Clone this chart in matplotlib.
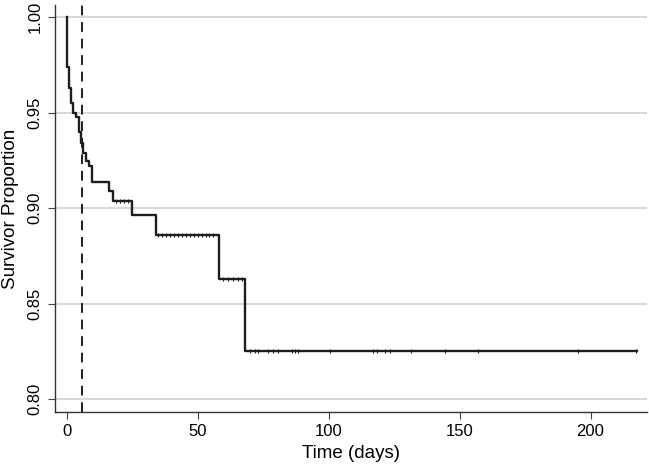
import matplotlib as mpl
mpl.use('Agg')
from matplotlib import pyplot as plt

plt.rcParams['font.family'] = ['Liberation Sans', 'DejaVu Sans']

# Kaplan-Meier steps
event_days = [0.0, 0.3, 0.9, 1.8, 2.5, 3.5, 4.8, 5.6, 6.1, 7.2, 8.6, 9.8, 16.1, 17.8, 24.8, 34.1, 58.2, 68.0, 217.7]
surv = [1.0, 0.974, 0.963, 0.955, 0.950, 0.948, 0.940, 0.934, 0.929, 0.925, 0.922, 0.914, 0.909, 0.904, 0.8965, 0.886, 0.863, 0.8254, 0.8254]

# censored observations (tick marks)
cens_days = [19, 20.5, 22, 23.5,
             35, 36.5, 38, 39.5, 41, 42.5, 44, 45.5, 47, 48.5, 50, 51.5, 53, 54.5, 56,
             59.5, 61.5, 63.5, 65.5, 67,
             70, 71.9, 73.1, 76.9, 78.8, 80.7, 85.9, 87.1, 88.4, 100.5, 117, 118.3,
             121.5, 123.4, 131.3, 144.4, 157.1, 195.3, 217.3]

median_day = 6  # dashed reference line

yticks = [0.80, 0.85, 0.90, 0.95, 1.00]
xticks = [0, 50, 100, 150, 200]


def surv_at(t):
    s = surv[0]
    for d, v in zip(event_days, surv):
        if d <= t:
            s = v
    return s


fig = plt.figure(figsize=(6.49, 4.66), dpi=100, facecolor='w')
ax = fig.add_axes([0.0847, 0.116, 0.912, 0.873])

for y in yticks:
    ax.axhline(y, color='#d4d4d4', lw=1.3, zorder=0)

ax.step(event_days, surv, where='post', color='#1e1e1e', lw=1.7, zorder=3)
ax.plot(cens_days, [surv_at(t) for t in cens_days], ls='none', marker='|',
        ms=3, mew=0.8, color='#1e1e1e', zorder=4)
ax.axvline(median_day, color='#1e1e1e', lw=1.4, ls=(0, (5, 3.5)), zorder=2)

ax.set_xlim(-4.47, 221.5)
ax.set_ylim(0.7933, 1.0064)
ax.set_xticks(xticks)
ax.set_yticks(yticks)
ax.set_yticklabels(['%.2f' % v for v in yticks], rotation=90, va='center')
ax.tick_params(axis='both', labelsize=12, length=5, width=0.8, color='#444444', pad=4)

[ax.spines[loc].set_visible(False) for loc in ['top', 'right']]
for loc in ['left', 'bottom']:
    ax.spines[loc].set_color('#333333')
    ax.spines[loc].set_linewidth(1.0)

ax.set_xlabel('Time (days)', fontsize=13.5, labelpad=4)
ax.set_ylabel('Survivor Proportion', fontsize=13.5, labelpad=6)

fig.savefig('out.png', dpi=100, facecolor='w')
